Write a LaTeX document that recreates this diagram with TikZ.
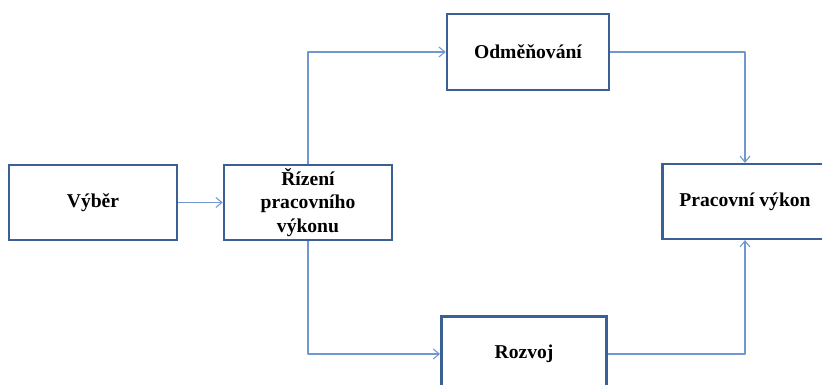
\documentclass[tikz,border=0pt]{standalone}
\usepackage{fontspec}
\setmainfont{Liberation Serif}
\usepackage{tikz}
\usetikzlibrary{arrows.meta}
\definecolor{boxline}{HTML}{3B6194}
\definecolor{link}{HTML}{6E98CF}
\tikzset{
  box/.style={draw=boxline, line width=1.9pt, fill=white, align=center,
    minimum width=124pt, minimum height=56pt, inner sep=2pt,
    font=\fontsize{14.7}{17.6}\selectfont\bfseries},
  conn/.style={draw=link, line width=0.8pt, line join=round,
    -{Straight Barb[length=4.5pt,width=7.5pt,line width=0.8pt]}},
}
\begin{document}
\begin{tikzpicture}[x=0.75pt, y=-0.75pt]
  \clip (0,0) rectangle (822,385);
  \fill[white] (0,0) rectangle (822,385);
  \node[box, minimum width=126pt] (vyber) at (93,202.5) {Výběr};
  \node[box, minimum width=126pt] (rizeni) at (308,202.5) {Řízení\\pracovního\\výkonu};
  \node[box, minimum width=121.5pt, minimum height=57pt] (odmena) at (528,52) {Odměňování};
  \node[box] (rozvoj) at (524,354) {Rozvoj};
  \node[box] (vykon) at (745,201.5) {Pracovní výkon};
  \draw[conn] (vyber) -- (rizeni);
  \draw[conn] (rizeni.north) |- (odmena.west);
  \draw[conn] (rizeni.south) |- (rozvoj.west);
  \draw[conn] (odmena.east) -| (vykon.north);
  \draw[conn] (rozvoj.east) -| (vykon.south);
\end{tikzpicture}
\end{document}
